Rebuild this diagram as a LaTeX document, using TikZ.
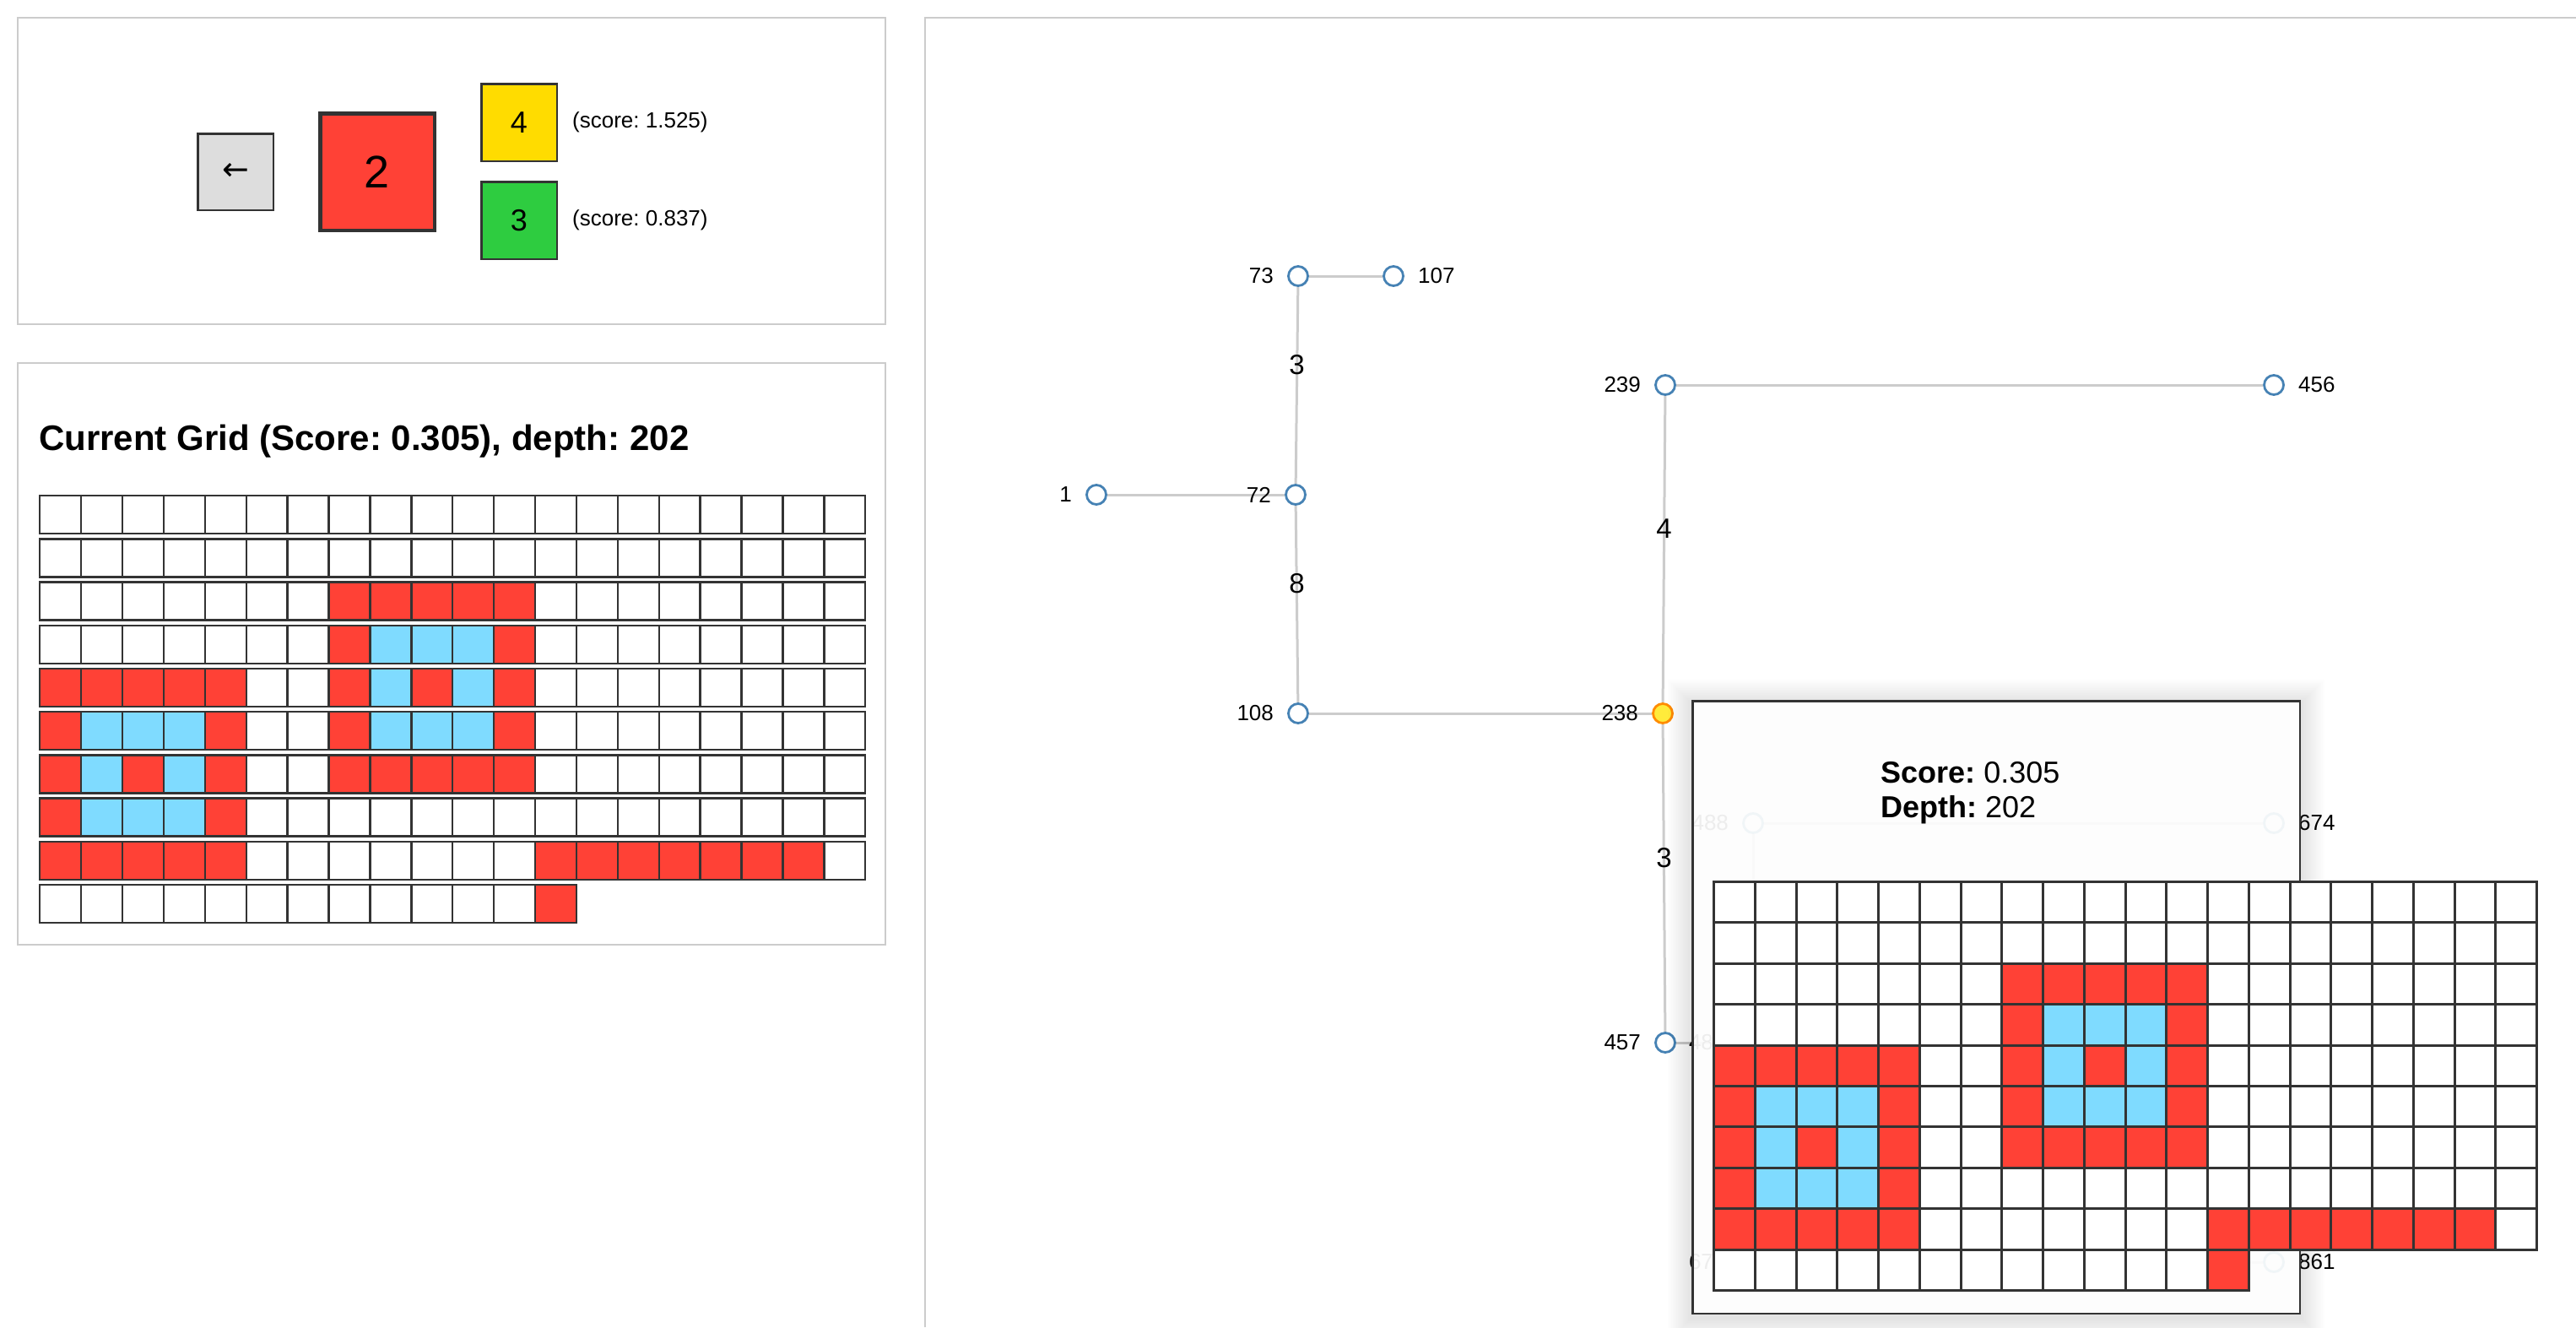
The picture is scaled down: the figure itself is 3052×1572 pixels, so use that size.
\documentclass[tikz,border=0pt]{standalone}
\usepackage{fontspec}
\setmainfont{Liberation Sans}
\newfontfamily\arrowfont{DejaVu Sans}
\usetikzlibrary{positioning}
\pgfdeclarelayer{background}
\pgfsetlayers{background,main}
\frenchspacing

\definecolor{arcred}{HTML}{FF4136}
\definecolor{arcteal}{HTML}{7FDBFF}
\definecolor{arcyellow}{HTML}{FFDC00}
\definecolor{arcgreen}{HTML}{2ECC40}
\definecolor{cellline}{HTML}{333333}
\definecolor{panelline}{HTML}{CCCCCC}
\definecolor{backgray}{HTML}{DDDDDD}
\definecolor{nodeblue}{HTML}{4682B4}
\definecolor{curfill}{HTML}{FFEB3B}
\definecolor{curline}{HTML}{FF8C00}
\colorlet{cell0}{white}
\colorlet{cell2}{arcred}
\colorlet{cell8}{arcteal}

% 0 = empty, 2 = red, 8 = light blue
\newcommand{\gridrows}{%
  {0,0,0,0,0,0,0,0,0,0,0,0,0,0,0,0,0,0,0,0},
  {0,0,0,0,0,0,0,0,0,0,0,0,0,0,0,0,0,0,0,0},
  {0,0,0,0,0,0,0,2,2,2,2,2,0,0,0,0,0,0,0,0},
  {0,0,0,0,0,0,0,2,8,8,8,2,0,0,0,0,0,0,0,0},
  {2,2,2,2,2,0,0,2,8,2,8,2,0,0,0,0,0,0,0,0},
  {2,8,8,8,2,0,0,2,8,8,8,2,0,0,0,0,0,0,0,0},
  {2,8,2,8,2,0,0,2,2,2,2,2,0,0,0,0,0,0,0,0},
  {2,8,8,8,2,0,0,0,0,0,0,0,0,0,0,0,0,0,0,0},
  {2,2,2,2,2,0,0,0,0,0,0,0,2,2,2,2,2,2,2,0},
  {0,0,0,0,0,0,0,0,0,0,0,0,2}}

% #1,#2 top left, #3 cell width, #4 cell height, #5 row pitch, #6 line width
\newcommand{\arcgrid}[6]{%
  \foreach \rowcells [count=\rowi from 0] in \gridrows {
    \foreach \v [count=\coli from 0] in \rowcells {
      \draw[cellbox, line width=#6pt, fill=cell\v]
        ({#1+\coli*#3},{#2+\rowi*#5}) rectangle ++(#3,#4);
    }
  }
}

\begin{document}
\begin{tikzpicture}[x=1pt, y=-1pt,
  panel/.style={draw=panelline, line width=2.5pt},
  cellbox/.style={draw=cellline},
  card/.style={draw=cellline, line width=2.5pt, inner sep=0pt, font=\fontsize{36}{40}\selectfont},
  note/.style={inner sep=0pt, font=\fontsize{26}{30}\selectfont},
  tnode/.style={circle, draw=nodeblue, fill=white, line width=2.8pt, minimum size=23pt, inner sep=0pt},
  curnode/.style={tnode, draw=curline, fill=curfill},
  lbl/.style={inner sep=0pt, font=\fontsize{26}{30}\selectfont},
  wlbl/.style={inner sep=0pt, font=\fontsize{33}{36}\selectfont},
  treeline/.style={draw=panelline, line width=3pt},
  label distance=16pt, every label/.style={lbl}]

\useasboundingbox (0,0) rectangle (3052,1572);

% left panels
\draw[panel] (21,21) rectangle (1049,384);
\draw[panel] (21,430) rectangle (1049,1119);
\draw[panel] (1096,1572) -- (1096,21) -- (3052,21);

\node[card, fill=backgray, minimum width=89.5pt, minimum height=90.5pt,
  font=\arrowfont\fontsize{38}{40}\selectfont] (back) at (279,203.5) {←};
\node[card, fill=arcred, line width=4.5pt, minimum width=135.5pt, minimum height=138.5pt,
  font=\fontsize{54}{60}\selectfont] (chosen) at (447,203.5) {2};
\node[card, fill=arcyellow, minimum width=89.5pt, minimum height=91.5pt] (cand4) at (615,145) {4};
\node[card, fill=arcgreen, minimum width=89.5pt, minimum height=91.5pt] (cand3) at (615,261) {3};
\node[note, right=17pt of cand4] (score4) {(score: 1.525)};
\node[note, right=17pt of cand3] (score3) {(score: 0.837)};

\node[anchor=base west, inner sep=0pt, font=\bfseries\fontsize{42}{48}\selectfont] (title)
  at (46,533) {Current Grid (Score: 0.305), depth: 202};
\arcgrid{47.2}{587.2}{48.9}{45}{51.2}{2.4}

% search tree
\node[tnode, label=left:73] (n73) at (1538,327) {};
\node[tnode, label=right:107] (n107) at (1651,327) {};
\node[tnode, label=left:1] (n1) at (1299,586) {};
\node[tnode, label=left:72] (n72) at (1535,586) {};
\node[tnode, label=left:108] (n108) at (1538,845) {};
\node[curnode, label=left:238] (n238) at (1970,845) {};
\node[tnode, label=left:239] (n239) at (1973,456) {};
\node[tnode, label=right:456] (n456) at (2694,456) {};
\node[tnode, label=left:457] (n457) at (1973,1235) {};
\node[tnode, label=left:488] (n488) at (2077,975) {};
\node[tnode, label=right:674] (n674) at (2694,975) {};
\node[tnode, label={[label distance=34pt]left:48}] (n48) at (2077,1235) {};
\node[tnode, label={[label distance=34pt]left:67}] (n67) at (2077,1495) {};
\node[tnode, label=right:861] (n861) at (2694,1495) {};

\begin{pgfonlayer}{background}
\fill[white] (0,0) rectangle (3052,1572);
\draw[treeline] (n73) -- (n107);
\draw[treeline] (n73) -- (n72);
\draw[treeline] (n1) -- (n72);
\draw[treeline] (n72) -- (n108);
\draw[treeline] (n108) -- (n238);
\draw[treeline] (n239) -- (n238);
\draw[treeline] (n239) -- (n456);
\draw[treeline] (n238) -- (n457);
\draw[treeline] (n457) -- (n48);
\draw[treeline] (n488) -- (n674);
\draw[treeline] (n488) -- (n48);
\draw[treeline] (n67) -- (n861);
\end{pgfonlayer}

\path (n73) -- (n72) node[midway, wlbl, yshift=24pt] {3};
\path (n72) -- (n108) node[midway, wlbl, yshift=24pt] {8};
\path (n239) -- (n238) node[midway, wlbl, yshift=24pt] {4};
\path (n238) -- (n457) node[midway, wlbl, yshift=24pt] {3};

% tooltip
\foreach \s in {1,...,14}
  \fill[black, fill opacity=0.008] ({2004-2*\s},{833-2*\s}) rectangle ({2726+2*\s},{1561+2*\s});
\node[draw=cellline, line width=2.5pt, fill=white, fill opacity=0.93, inner sep=0pt,
  minimum width=719.5pt, minimum height=725.5pt, anchor=north west] (tip) at (2004,829) {};
\node[anchor=base west, inner sep=0pt, font=\fontsize{36}{40}\selectfont] (tipscore)
  at (2228,927) {\textbf{Score:} 0.305};
\node[anchor=base west, inner sep=0pt, font=\fontsize{36}{40}\selectfont] (tipdepth)
  at (2228,968) {\textbf{Depth:} 202};
\arcgrid{2030.5}{1044.5}{48.75}{48.4}{48.4}{3}

\end{tikzpicture}
\end{document}
